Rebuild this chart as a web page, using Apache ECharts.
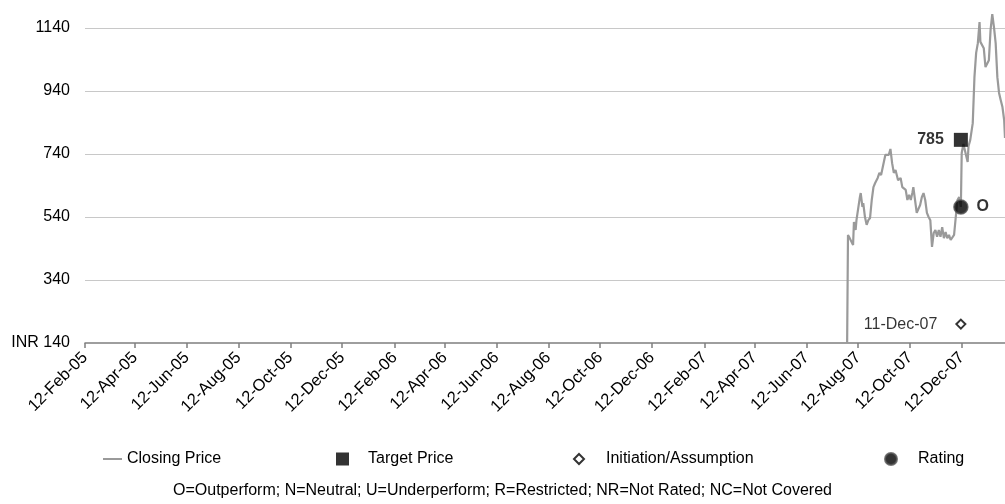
<!DOCTYPE html>
<html>
<head>
<meta charset="utf-8">
<title>Share price, target price and rating history</title>
<script src="https://cdn.jsdelivr.net/npm/echarts@6/dist/echarts.min.js"></script>
<style>
  html, body { margin: 0; padding: 0; background: #fff; }
  #chart { width: 1005px; height: 504px; }
</style>
</head>
<body>
<div id="chart"></div>
<script>
// Closing price history (INR)
const closeDates = [
  '2007-07-30','2007-07-31','2007-08-02','2007-08-06','2007-08-07','2007-08-09','2007-08-10',
  '2007-08-14','2007-08-15','2007-08-17','2007-08-18','2007-08-20','2007-08-22','2007-08-24',
  '2007-08-26','2007-08-28','2007-08-30','2007-09-01','2007-09-04','2007-09-06','2007-09-08',
  '2007-09-10','2007-09-13','2007-09-15','2007-09-17','2007-09-19','2007-09-21','2007-09-23',
  '2007-09-25','2007-09-28','2007-10-01','2007-10-03','2007-10-05','2007-10-07','2007-10-09',
  '2007-10-11','2007-10-13','2007-10-15','2007-10-16','2007-10-18','2007-10-20','2007-10-22',
  '2007-10-24','2007-10-26','2007-10-28','2007-10-30','2007-11-01','2007-11-03','2007-11-05',
  '2007-11-07','2007-11-09','2007-11-11','2007-11-13','2007-11-15','2007-11-17','2007-11-19',
  '2007-11-21','2007-11-23','2007-11-25','2007-11-27','2007-11-29','2007-12-01','2007-12-03',
  '2007-12-05','2007-12-07','2007-12-09','2007-12-11','2007-12-12','2007-12-14','2007-12-19',
  '2007-12-20','2007-12-22','2007-12-25','2007-12-27','2007-12-29','2007-12-31','2008-01-02',
  '2008-01-03','2008-01-05','2008-01-07','2008-01-09','2008-01-11','2008-01-13','2008-01-15',
  '2008-01-17','2008-01-19','2008-01-21','2008-01-23','2008-01-25','2008-01-27','2008-01-29',
  '2008-01-31','2008-02-01'
];
const closeValues = [
  140, 483, 473, 451, 524, 499, 530,
  603, 616, 572, 584, 540, 515, 530,
  537, 594, 635, 648, 664, 680, 673,
  699, 737, 743, 737, 756, 711, 680,
  689, 657, 664, 635, 635, 626, 594,
  610, 594, 619, 635, 594, 553, 556,
  578, 603, 616, 594, 553, 540, 530,
  445, 489, 499, 477, 499, 477, 508,
  473, 492, 473, 483, 467, 473, 483,
  540, 594, 603, 572, 743, 772, 715,
  765, 784, 838, 984, 1061, 1092, 1159,
  1096, 1092, 1076, 1016, 1013, 1038, 1134,
  1184, 1143, 1092, 984, 934, 911, 889,
  848, 791
];

// Target price changes
const targetDates = ['2007-12-11'];
const targetValues = [785];

// Rating changes (plotted on the closing price of that day)
const ratingDates = ['2007-12-11'];
const ratingValues = [572];
const ratingCodes = ['O'];

// Coverage initiation / assumption
const initDates = ['2007-12-11'];
const initLevel = [200];

// Axis ticks and ranges
const xTickDates = [
  '2005-02-12','2005-04-12','2005-06-12','2005-08-12','2005-10-12','2005-12-12',
  '2006-02-12','2006-04-12','2006-06-12','2006-08-12','2006-10-12','2006-12-12',
  '2007-02-12','2007-04-12','2007-06-12','2007-08-12','2007-10-12','2007-12-12'
];
const xRange = ['2005-02-12', '2008-02-01'];
const yTicks = [140, 340, 540, 740, 940, 1140];
const yMax = 1229;

const footnote = 'O=Outperform; N=Neutral; U=Underperform; R=Restricted; NR=Not Rated; NC=Not Covered';

const MONTHS = ['Jan','Feb','Mar','Apr','May','Jun','Jul','Aug','Sep','Oct','Nov','Dec'];
function ts(s) {
  const p = s.split('-').map(Number);
  return Date.UTC(p[0], p[1] - 1, p[2]);
}
function fmtDate(v) {
  const d = new Date(v);
  const dd = String(d.getUTCDate()).padStart(2, '0');
  const yy = String(d.getUTCFullYear() % 100).padStart(2, '0');
  return dd + '-' + MONTHS[d.getUTCMonth()] + '-' + yy;
}
function pairs(dates, vals) { return dates.map((d, i) => [ts(d), vals[i]]); }

const FONT = "'Liberation Sans Narrow','Arial Narrow','Liberation Sans',Arial,sans-serif";
const FS = 16;
const xTicks = xTickDates.map(ts);

const chart = echarts.init(document.getElementById('chart'), null, { renderer: 'canvas' });

function legendAt(name, left, opts) {
  return Object.assign({
    data: [name],
    left: left,
    top: 451,
    padding: 0,
    itemGap: 0,
    textStyle: { fontFamily: FONT, fontSize: FS, color: '#000' },
    selectedMode: false
  }, opts);
}
function padText(px) {
  return { fontFamily: FONT, fontSize: FS, color: '#000', padding: [0, 0, 0, px] };
}

chart.setOption({
  animation: false,
  backgroundColor: '#fff',
  textStyle: { fontFamily: FONT },
  title: {
    text: footnote,
    left: 'center',
    top: 483,
    padding: 0,
    textStyle: { fontFamily: FONT, fontSize: FS, fontWeight: 'normal', color: '#000' }
  },
  legend: [
    legendAt('Closing Price', 103, { icon: 'rect', itemWidth: 19, itemHeight: 2 }),
    legendAt('Target Price', 336, { icon: 'rect', itemWidth: 13, itemHeight: 13, textStyle: padText(14) }),
    legendAt('Initiation/Assumption', 573, { icon: 'diamond', itemWidth: 10, itemHeight: 10, textStyle: padText(17) }),
    legendAt('Rating', 884, { icon: 'circle', itemWidth: 12, itemHeight: 12, textStyle: padText(16) })
  ],
  grid: { left: 85, right: 0, top: 0, bottom: 161, containLabel: false },
  xAxis: {
    type: 'value',
    min: ts(xRange[0]),
    max: ts(xRange[1]),
    axisLine: { lineStyle: { color: '#7f7f7f', width: 1.5 } },
    axisTick: { show: true, customValues: xTicks, length: 5, lineStyle: { color: '#7f7f7f', width: 1.5 } },
    axisLabel: {
      customValues: xTicks,
      rotate: 45,
      margin: 12,
      fontFamily: FONT,
      fontSize: 16.5,
      color: '#000',
      formatter: v => fmtDate(v),
      hideOverlap: false
    },
    splitLine: { show: false }
  },
  yAxis: {
    type: 'value',
    min: yTicks[0],
    max: yMax,
    axisLine: { show: false },
    axisTick: { show: false, customValues: yTicks.slice(1) },
    axisLabel: {
      customValues: yTicks,
      margin: 15,
      fontFamily: FONT,
      fontSize: FS,
      color: '#000',
      formatter: v => (v === yTicks[0] ? 'INR ' + v : String(v))
    },
    splitLine: { show: true, lineStyle: { color: '#c8c8c8', width: 1 } }
  },
  series: [
    {
      name: 'Closing Price',
      type: 'line',
      data: pairs(closeDates, closeValues),
      showSymbol: false,
      symbol: 'none',
      lineStyle: { color: '#9a9a9a', width: 2.2 },
      itemStyle: { color: '#9a9a9a' },
      clip: true,
      z: 2
    },
    {
      name: 'Target Price',
      type: 'scatter',
      data: pairs(targetDates, targetValues),
      symbol: 'rect',
      symbolSize: 14,
      itemStyle: { color: '#000' },
      label: {
        show: true, position: 'left', distance: 10,
        fontFamily: FONT, fontSize: FS, fontWeight: 'bold', color: '#000',
        formatter: p => String(p.value[1])
      },
      z: 4
    },
    {
      name: 'Initiation/Assumption',
      type: 'scatter',
      data: pairs(initDates, initLevel),
      symbol: 'diamond',
      symbolSize: 9,
      itemStyle: { color: '#fff', borderColor: '#000', borderWidth: 2 },
      label: {
        show: true, position: 'left', distance: 18,
        fontFamily: FONT, fontSize: FS, color: '#000',
        formatter: p => fmtDate(p.value[0])
      },
      z: 4
    },
    {
      name: 'Rating',
      type: 'scatter',
      data: pairs(ratingDates, ratingValues),
      symbol: 'circle',
      symbolSize: 14,
      itemStyle: { color: '#000', borderColor: '#555', borderWidth: 1.5 },
      label: {
        show: true, position: 'right', distance: 8,
        fontFamily: FONT, fontSize: FS, fontWeight: 'bold', color: '#000',
        formatter: p => ratingCodes[p.dataIndex]
      },
      z: 5
    }
  ]
});
</script>
</body>
</html>
